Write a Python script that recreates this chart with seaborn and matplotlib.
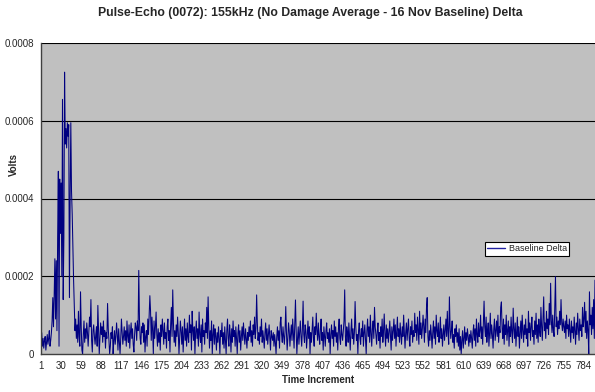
import numpy as np
import pandas as pd
import matplotlib
matplotlib.use("Agg")
import matplotlib.pyplot as plt
import seaborn as sns

# Baseline delta in microvolts (1e-6 V), 20 values per row
delta_uv = [
    30, 55, 20, 40, 15, 35, 45, 10, 30, 50, 25, 40, 60, 20, 35, 55, 85, 145, 70, 150,
    245, 90, 240, 60, 300, 470, 20, 450, 310, 440, 200, 655, 140, 300, 725, 540, 580, 530, 595, 560,
    590, 145, 400, 595, 420, 360, 275, 190, 120, 60, 90, 40, 75, 30, 110, 45, 20, 160, 70, 10,
    0, 50, 85, 30, 65, 40, 80, 55, 20, 60, 95, 70, 140, 35, 5, 60, 75, 45, 25, 50,
    70, 20, 125, 60, 0, 40, 80, 50, 70, 30, 85, 45, 60, 15, 55, 40, 130, 65, 35, 0,
    20, 55, 40, 70, 0, 35, 60, 25, 45, 80, 50, 10, 65, 30, 0, 40, 90, 55, 25, 45,
    70, 35, 60, 20, 85, 45, 30, 75, 15, 55, 80, 40, 65, 25, 5, 50, 80, 70, 35, 85,
    60, 215, 90, 40, 25, 70, 55, 80, 30, 75, 5, 45, 60, 20, 90, 50, 100, 150, 110, 35,
    95, 60, 0, 85, 40, 70, 108, 50, 20, 65, 30, 55, 10, 75, 45, 90, 60, 25, 80, 40,
    55, 15, 70, 90, 35, 60, 5, 75, 120, 45, 165, 80, 30, 60, 20, 75, 45, 95, 55, 0,
    40, 85, 60, 25, 70, 5, 50, 90, 35, 65, 20, 80, 45, 30, 100, 55, 75, 10, 110, 60,
    35, 70, 0, 55, 85, 40, 65, 20, 108, 50, 30, 75, 5, 90, 45, 60, 25, 80, 55, 120,
    40, 147, 70, 15, 60, 35, 85, 0, 50, 75, 25, 65, 45, 10, 55, 30, 70, 40, 0, 60,
    45, 80, 25, 55, 15, 70, 35, 0, 60, 90, 40, 20, 75, 50, 5, 65, 30, 85, 45, 60,
    20, 70, 40, 0, 55, 75, 30, 60, 10, 45, 70, 35, 80, 50, 25, 65, 40, 15, 55, 35,
    70, 45, 85, 30, 60, 20, 75, 50, 95, 40, 65, 152, 80, 35, 55, 25, 70, 45, 90, 30,
    60, 40, 15, 55, 80, 35, 65, 25, 50, 75, 40, 10, 60, 45, 35, 55, 20, 50, 30, 0,
    45, 70, 35, 60, 15, 80, 95, 50, 30, 70, 45, 25, 60, 122, 55, 10, 40, 80, 60, 20,
    50, 75, 35, 90, 55, 15, 80, 139, 60, 0, 40, 70, 25, 55, 85, 45, 20, 65, 136, 50,
    30, 75, 60, 15, 45, 85, 40, 70, 0, 55, 30, 65, 95, 40, 20, 70, 50, 105, 60, 35,
    80, 45, 25, 65, 90, 35, 55, 10, 70, 45, 20, 60, 80, 40, 55, 30, 65, 0, 50, 75,
    40, 60, 20, 85, 45, 70, 30, 55, 10, 65, 90, 40, 25, 75, 50, 35, 60, 85, 165, 45,
    20, 70, 55, 30, 80, 45, 10, 60, 90, 40, 65, 25, 55, 135, 70, 35, 50, 0, 60, 80,
    40, 25, 65, 45, 85, 20, 55, 75, 35, 0, 60, 90, 45, 70, 30, 100, 55, 20, 65, 85,
    40, 120, 70, 50, 25, 60, 80, 35, 55, 15, 70, 45, 90, 30, 60, 103, 50, 20, 75, 40,
    65, 30, 55, 85, 45, 10, 70, 35, 60, 90, 40, 75, 20, 55, 95, 45, 65, 30, 80, 50,
    25, 70, 45, 100, 60, 15, 55, 80, 35, 65, 90, 40, 20, 70, 50, 85, 30, 60, 45, 105,
    55, 75, 35, 95, 60, 25, 110, 50, 80, 40, 65, 100, 70, 30, 90, 55, 120, 145, 45, 20,
    60, 35, 75, 50, 15, 55, 85, 40, 70, 25, 100, 60, 45, 80, 30, 55, 95, 40, 65, 20,
    50, 75, 35, 60, 90, 45, 110, 55, 25, 147, 70, 40, 60, 85, 30, 50, 15, 65, 45, 75,
    30, 55, 20, 65, 10, 45, 0, 35, 60, 15, 40, 70, 25, 55, 35, 65, 45, 20, 50, 30,
    60, 40, 15, 55, 75, 35, 65, 20, 90, 50, 30, 80, 45, 60, 100, 40, 70, 25, 85, 136,
    70, 45, 95, 30, 60, 80, 20, 55, 105, 40, 75, 50, 15, 65, 90, 35, 60, 85, 45, 100,
    30, 70, 55, 120, 134, 65, 40, 90, 25, 75, 50, 100, 35, 60, 85, 20, 70, 45, 95, 55,
    30, 118, 65, 40, 80, 20, 60, 95, 45, 70, 15, 55, 85, 40, 100, 60, 30, 75, 50, 90,
    40, 65, 20, 110, 55, 80, 35, 70, 95, 45, 60, 25, 85, 50, 105, 40, 75, 30, 90, 60,
    45, 120, 70, 35, 95, 147, 60, 80, 40, 110, 65, 90, 50, 130, 75, 182, 85, 55, 100, 60,
    45, 120, 199, 70, 95, 50, 85, 65, 110, 75, 140, 80, 60, 90, 70, 55, 85, 40, 100, 65,
    75, 45, 90, 60, 30, 85, 55, 70, 40, 95, 60, 25, 80, 50, 105, 65, 35, 90, 60, 75,
    45, 120, 70, 90, 133, 55, 110, 40, 85, 60, 0, 160, 75, 100, 50, 120, 65, 140, 40, 190,
]

x_ticks = list(range(1, 785, 29))
y_ticks = [0, 0.0002, 0.0004, 0.0006, 0.0008]
y_tick_labels = ["0", "0.0002", "0.0004", "0.0006", "0.0008"]

df = pd.DataFrame({
    "Time Increment": np.arange(1, len(delta_uv) + 1),
    "Volts": np.array(delta_uv) * 1e-6,
})

sns.set_style("white")
plt.rcParams["font.family"] = ["Liberation Sans", "DejaVu Sans"]

fig = plt.figure(figsize=(5.95, 3.92), dpi=100)
ax = fig.add_axes([41 / 595, 1 - 354 / 392, 1 - 41 / 595, (354 - 43) / 392])
ax.set_facecolor("#C0C0C0")

sns.lineplot(data=df, x="Time Increment", y="Volts", ax=ax, color="#000080",
             linewidth=0.75, label="Baseline Delta")

ax.set_xlim(1, 800)
ax.set_ylim(0, 0.0008)
ax.set_xticks(x_ticks)
ax.set_xticklabels([str(t) for t in x_ticks], fontsize=7)
ax.set_yticks(y_ticks)
ax.set_yticklabels(y_tick_labels, fontsize=7)
ax.tick_params(axis="both", direction="out", length=3, width=0.8, color="#404040", pad=2)
for y in y_ticks[1:]:
    ax.axhline(y, color="black", linewidth=0.8, zorder=0.5)
for side in ["top", "right"]:
    ax.spines[side].set_visible(False)
for side in ["left", "bottom"]:
    ax.spines[side].set_color("#404040")
    ax.spines[side].set_linewidth(1.0)
ax.set_xlabel("")
ax.set_ylabel("")

fig.text(310 / 595, 1 - 13 / 392, "Pulse-Echo (0072): 155kHz (No Damage Average - 16 Nov Baseline) Delta",
         ha="center", va="center", fontsize=8.8, fontweight="bold")
fig.text(14 / 595, 1 - 165 / 392, "Volts", ha="center", va="center", rotation=90,
         fontsize=7, fontweight="bold")
fig.text(318 / 595, 1 - 380 / 392, "Time Increment", ha="center", va="center",
         fontsize=7, fontweight="bold")

leg = ax.legend(loc="upper left", bbox_to_anchor=((485 - 41) / 554, 1 - (242 - 43) / 311),
                fontsize=6.5, frameon=True, fancybox=False, handlelength=2.0,
                borderpad=0.25, handletextpad=0.4, borderaxespad=0)
leg.get_lines()[0].set_color("#2020A0")
leg.get_lines()[0].set_linewidth(1.0)
leg.get_frame().set_edgecolor("black")
leg.get_frame().set_facecolor("white")
leg.get_frame().set_alpha(1)
leg.get_frame().set_linewidth(0.8)

fig.savefig("out.png", dpi=100)
